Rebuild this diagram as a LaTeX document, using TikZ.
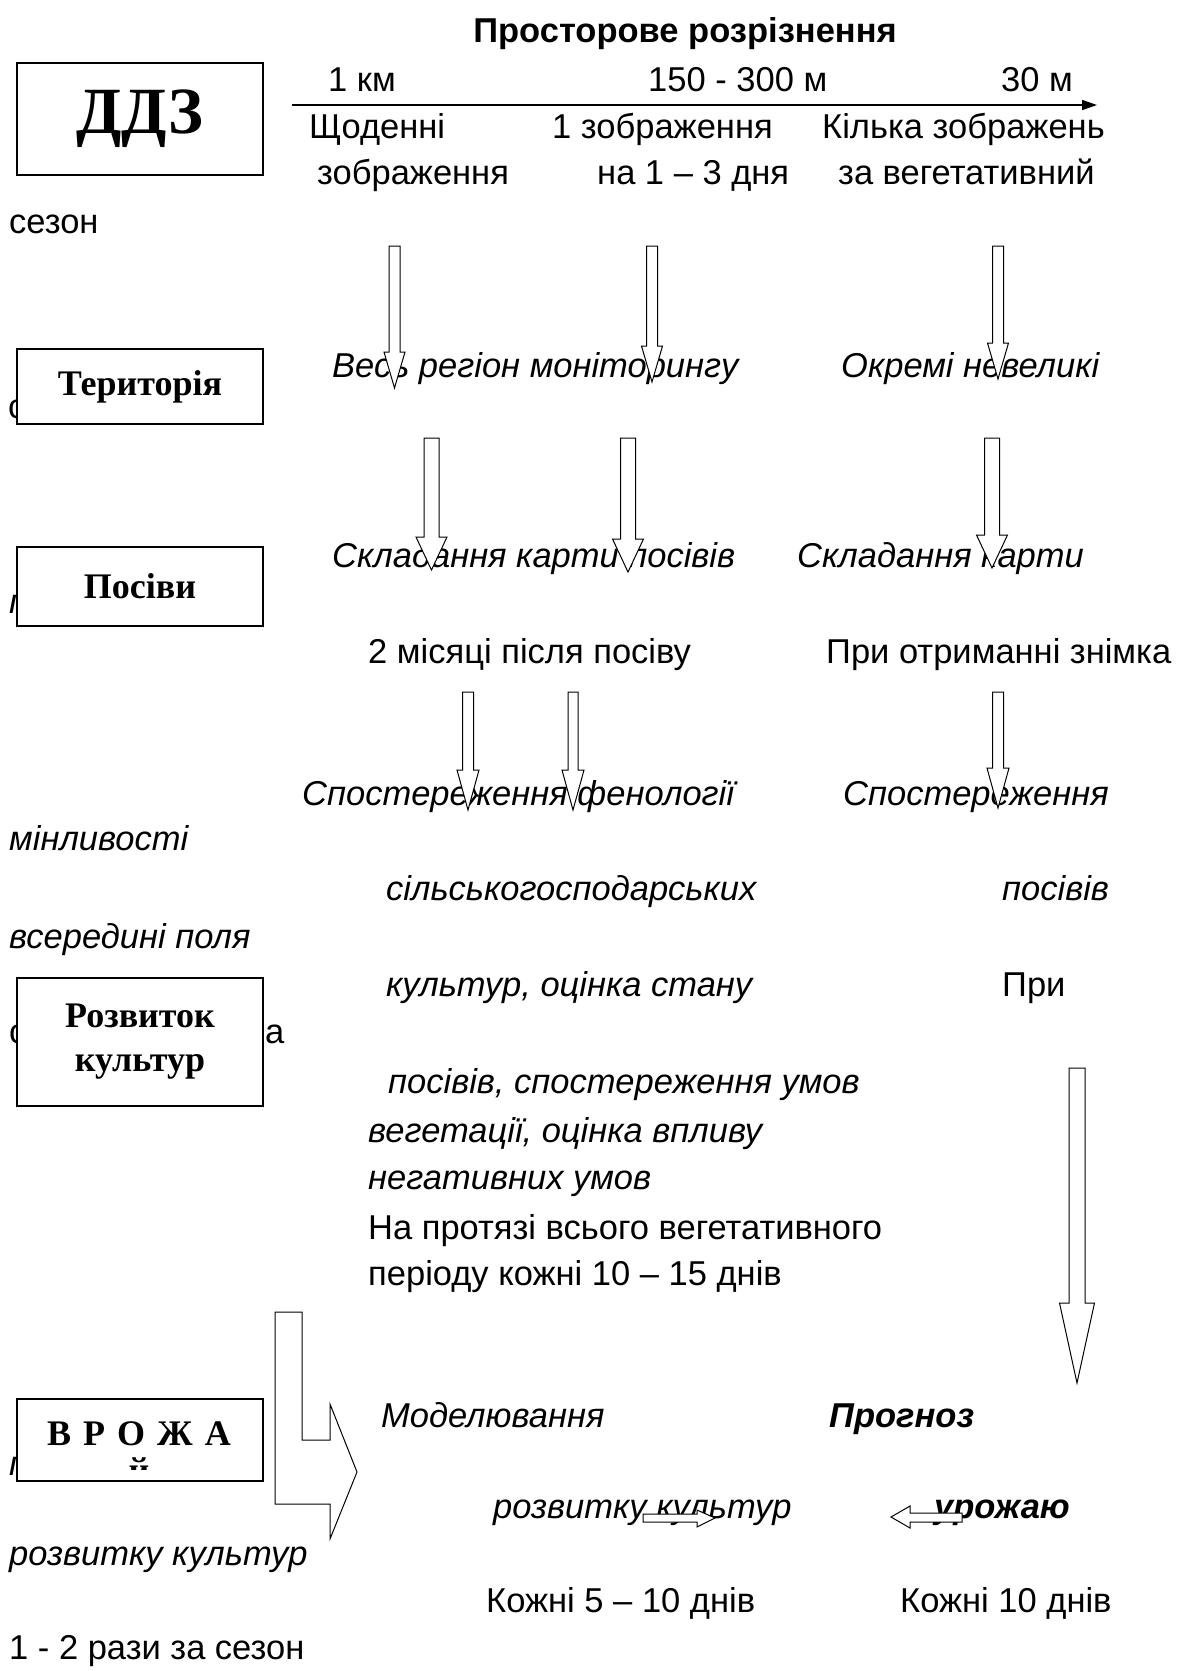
\documentclass[tikz,border=0pt]{standalone}
\usepackage{fontspec}
\setmainfont{Liberation Sans}
\newfontfamily\timesfont{Liberation Serif}
\usepackage{tikz}
\usetikzlibrary{positioning, arrows.meta}
\newcommand{\txtsize}{\fontsize{34.5}{41}\selectfont}
\newcommand{\boxsize}{\fontsize{36}{44}\selectfont}

\begin{document}
\begin{tikzpicture}[
        x=1pt, y=-1pt,
        every node/.style={inner sep=0pt},
        plain/.style={anchor=base west, font=\txtsize},
        ital/.style={anchor=base west, font=\txtsize\itshape},
        bital/.style={anchor=base west, font=\txtsize\bfseries\itshape},
        box/.style={draw, line width=1.2pt, fill=white, minimum width=246pt, align=center, font=\boxsize\timesfont\bfseries},
        block/.style={draw, line width=1pt, fill=white, line join=miter},
        axis/.style={-{Triangle[length=15pt, width=10pt]}, line width=1.5pt}
    ]
    \fill[white] (0,0) rectangle (1176,1671);
    \useasboundingbox (0,0) rectangle (1176,1671);

    % Scale of resolution
    \node[anchor=base, font=\txtsize\bfseries] (title) at (685,42) {Просторове розрізнення};
    \node[plain] (res1) at (328,91) {1 км};
    \node[plain] (res2) at (648,91) {150 - 300 м};
    \node[plain] (res3) at (1001,91) {30 м};
    \coordinate (axisstart) at (292,105);
    \coordinate (axisend) at (1097,105);
    \draw[axis] (axisstart) -- (axisend);
    \node[plain] (freq1a) at (309,138) {Щоденні};
    \node[plain] (freq2a) at (552,138) {1 зображення};
    \node[plain] (freq3a) at (822,138) {Кілька зображень};
    \node[plain] (freq1b) at (317,184) {зображення};
    \node[plain] (freq2b) at (597,184) {на 1 – 3 дня};
    \node[plain] (freq3b) at (838,184) {за вегетативний};
    \node[plain] (season) at (9,233) {сезон};

    % Territory
    \node[ital] (region) at (332,377) {Весь регіон моніторингу};
    \node[ital] (small) at (841,377) {Окремі невеликі};
    \node[plain] (hidA) at (8,418) {с};

    % Crops
    \node[ital] (mapall) at (332,567) {Складання карти посівів};
    \node[ital] (mapsome) at (797,567) {Складання карти};
    \node[ital] (hidB) at (9,613) {п};
    \node[plain] (after) at (368,663) {2 місяці після посіву};
    \node[plain] (onget) at (826,663) {При отриманні знімка};

    % Development
    \node[ital] (obs1) at (302,805) {Спостереження фенології};
    \node[ital] (obs2) at (843,805) {Спостереження};
    \node[ital] (var1) at (9,850) {мінливості};
    \node[ital] (obs1b) at (386,900) {сільськогосподарських};
    \node[ital] (obs2b) at (1002,900) {посівів};
    \node[ital] (var2) at (9,948) {всередині поля};
    \node[ital] (obs1c) at (386,996) {культур, оцінка стану};
    \node[plain] (obs2c) at (1002,996) {При};
    \node[plain] (hidC) at (9,1043) {с};
    \node[plain] (hidD) at (265,1043) {а};
    \node[ital] (obs1d) at (388,1093) {посівів, спостереження умов};
    \node[ital] (obs1e) at (368,1142) {вегетації, оцінка впливу};
    \node[ital] (obs1f) at (368,1189) {негативних умов};
    \node[plain] (per1) at (368,1239) {На протязі всього вегетативного};
    \node[plain] (per2) at (368,1285) {періоду кожні 10 – 15 днів};

    % Yield
    \node[ital] (model) at (381,1427) {Моделювання};
    \node[bital] (forecast) at (829,1427) {Прогноз};
    \node[ital] (hidE) at (9,1475) {п};
    \node[ital] (model2) at (493,1518) {розвитку культур};
    \node[bital, anchor=base east] (forecast2) at (1070,1518) {урожаю};
    \node[ital] (var3) at (9,1565) {розвитку культур};
    \node[plain] (every1) at (486,1612) {Кожні 5 – 10 днів};
    \node[plain] (every2) at (900,1612) {Кожні 10 днів};
    \node[plain] (twice) at (9,1659) {1 - 2 рази за сезон};

    % Boxes on the left
    \node[box, minimum height=112pt, font=\fontsize{66}{70}\selectfont\timesfont\bfseries] (ddz) at (140,119) {ДДЗ};
    \node[box, minimum height=75pt] (terr) at (140,386.5) {Територія};
    \node[box, minimum height=79pt] (crops) at (140,586.5) {Посіви};
    \node[box, minimum height=128pt] (devel) at (140,1042) {Розвиток\\культур};
    \node[box, minimum height=82pt] (yield) at (140,1440) {};
    \begin{scope}
        \clip (17,1399) rectangle (263,1469);
        \node[anchor=base, font=\boxsize\timesfont\bfseries] (yieldA) at (139,1445) {В\,\,Р\,\,О\,\,Ж\,\,А};
        \node[anchor=base, font=\boxsize\timesfont\bfseries] (yieldB) at (139,1482) {й};
    \end{scope}

    % Block arrows
    \foreach \x/\t/\b/\p/\s/\h in {394.5/246/352/388/5.5/10.5, 652/246/346/382/5.5/10.5, 998/246/343/379/5.5/10.5,
        431.5/438/537/570/7.5/15.5, 628/438/539/572/7.5/15.5, 992/438/535/568/7.5/15.5,
        468/692/770/810/5.5/11, 573/692/770/810/5/11, 998/692/768/808/5.5/11,
        1077/1068/1303/1383/8/17.5}
        \draw[block] ({\x-\s},\t) -- ({\x+\s},\t) -- ({\x+\s},\b) -- ({\x+\h},\b) -- (\x,\p)
            -- ({\x-\h},\b) -- ({\x-\s},\b) -- cycle;
    \draw[block] (275,1312) -- (302,1312) -- (302,1440) -- (330,1440) -- (330,1404) -- (357,1472)
        -- (330,1539) -- (330,1504) -- (275,1504) -- cycle;
    \draw[block] (643,1514) -- (697,1514) -- (697,1510) -- (715,1518) -- (697,1527) -- (697,1522) -- (643,1522) -- cycle;
    \draw[block] (962,1513) -- (910,1513) -- (910,1506) -- (891,1517) -- (910,1528) -- (910,1522) -- (962,1522) -- cycle;

\end{tikzpicture}
\end{document}
